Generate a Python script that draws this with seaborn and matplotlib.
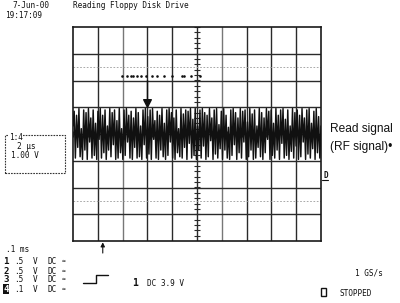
import numpy as np
import pandas as pd
import matplotlib
matplotlib.use("Agg")
import matplotlib.pyplot as plt
from matplotlib.lines import Line2D
from matplotlib.patches import Rectangle
import seaborn as sns

# ---------------- data ----------------
signal_div = [
 0.3, 0.85, -0.9, 0.7, -0.5, 0.95, -0.85, 0.2, -0.95, 0.9,
 -0.6, 0.8, -0.95, 0.95, -0.3, 0.6, -0.9, 0.9, -0.8, 0.4,
 -0.95, 0.85, -0.2, 0.95, -0.9, 0.7, -0.7, 0.9, -0.95, 0.3,
 -0.6, 0.95, -0.85, 0.8, -0.4, 0.9, -0.95, 0.5, -0.9, 0.95,
 -0.7, 0.2, -0.95, 0.9, -0.8, 0.95, -0.3, 0.7, -0.9, 0.85,
 -0.95, 0.6, -0.5, 0.95, -0.9, 0.8, -0.85, 0.3, -0.95, 0.9,
 -0.4, 0.95, -0.9, 0.65, -0.75, 0.9, -0.95, 0.95, -0.2, 0.5,
 -0.9, 0.85, -0.95, 0.7, -0.6, 0.95, -0.85, 0.4, -0.95, 0.9,
 -0.8, 0.95, -0.3, 0.8, -0.9, 0.6, -0.95, 0.9, -0.7, 0.2,
 -0.85, 0.95, -0.9, 0.75, -0.5, 0.9, -0.95, 0.85, -0.35, 0.95,
 -0.9, 0.55, -0.8, 0.95, -0.95, 0.3, -0.6, 0.9, -0.9, 0.95,
 -0.45, 0.8, -0.95, 0.7, -0.85, 0.95, -0.25, 0.6, -0.95, 0.9,
 -0.75, 0.95, -0.9, 0.35, -0.55, 0.85, -0.95, 0.95, -0.6, 0.7,
 -0.9, 0.25, -0.95, 0.9, -0.8, 0.95, -0.4, 0.8, -0.95, 0.6,
 -0.7, 0.95, -0.9, 0.85, -0.3, 0.9, -0.95, 0.45, -0.85, 0.95,
 -0.6, 0.75, -0.95, 0.9, -0.9, 0.3, -0.5, 0.95, -0.85, 0.8,
 -0.95, 0.6, -0.7, 0.95, -0.2, 0.85, -0.95, 0.9, -0.8, 0.4,
 -0.9, 0.95, -0.6, 0.7, -0.95, 0.9, -0.35, 0.95, -0.9, 0.55,
 -0.8, 0.9, -0.95, 0.3, -0.65, 0.95, -0.9, 0.8, -0.45, 0.9,
 -0.95, 0.7, -0.85, 0.95, -0.3, 0.6, -0.95, 0.9, -0.75, 0.95,
 -0.9, 0.4, -0.55, 0.85, -0.95, 0.95, -0.7, 0.65, -0.9, 0.3,
]
dots_x = [1.96, 2.16, 2.34, 2.43, 2.57, 2.73, 2.94, 3.17, 3.40, 3.68, 3.98, 4.38, 4.48, 4.75, 5.14]
dots_y = [2.17] * len(dots_x)
marker_x = 3.0
marker_top, marker_bottom = 2.17, 1.12
trig_x = 1.2

header_date = "7-Jun-00"
header_time = "19:17:09"
title = "Reading Floppy Disk Drive"
box_lines = ["1:4", "2 \u03bcs", "1.00 V"]
timebase = ".1 ms"
ch_nums = ["1", "2", "3", "4"]
ch_scale = [".5", ".5", ".5", ".1"]
trigger_text = "DC 3.9 V"
sample_rate = "1 GS/s"
status = "STOPPED"
note_lines = ["Read signal", "(RF signal)\u2022"]

# ---------------- figure ----------------
sns.set_theme(style="white")
W, H = 400, 303
fig = plt.figure(figsize=(W / 100, H / 100), dpi=100)
fig.patch.set_facecolor("white")

def fx(x):
    return x / W

def fy(y):
    return 1 - y / H

gx0, gx1, gy0, gy1 = 73, 321, 27, 241
ax = fig.add_axes([fx(gx0), fy(gy1), (gx1 - gx0) / W, (gy1 - gy0) / H])
ax.set_xlim(0, 10)
ax.set_ylim(-4, 4)
ax.set_xticks([])
ax.set_yticks([])
for s in ax.spines.values():
    s.set_color("#1a1a1a")
    s.set_linewidth(1.2)

grid_c = "#2a2a2a"
for i in range(1, 10):
    ax.axvline(i, color=grid_c if i not in (2, 6) else "#777777", lw=1.0, zorder=1)
for j in range(-3, 4):
    ax.axhline(j, color=grid_c, lw=1.0, zorder=1)
for j in (-2.5, 2.5):
    ax.axhline(j, color="#9a9a9a", lw=0.6, ls=(0, (2, 2)), zorder=1)
# graticule minor ticks on centre lines
ty = np.arange(-4, 4.01, 0.2)
ax.hlines(ty, 5 - 0.14, 5 + 0.14, color=grid_c, lw=0.8, zorder=2)
tx = np.arange(0, 10.01, 0.2)
ax.vlines(tx, -0.1, 0.1, color=grid_c, lw=0.8, zorder=2)

df = pd.DataFrame({"t": np.linspace(0, 10, len(signal_div)), "v": signal_div})
sns.lineplot(data=df, x="t", y="v", ax=ax, color="#111111", lw=1.05, zorder=3, legend=False)

sns.scatterplot(x=dots_x, y=dots_y, ax=ax, color="#111111", s=3.5, marker="o",
                linewidth=0, zorder=4, legend=False)
ax.plot([marker_x, marker_x], [marker_top - 0.15, marker_bottom + 0.1], color="#111111", lw=1.0, zorder=4)
ax.scatter([marker_x], [marker_bottom + 0.05], marker="v", s=30, color="#111111", zorder=5)
ax.annotate("", xy=(trig_x, -4.05), xytext=(trig_x, -4.45), annotation_clip=False,
            arrowprops=dict(arrowstyle="-|>", color="#111111", lw=0.8, mutation_scale=6,
                            shrinkA=0, shrinkB=0))
ax.set_xlabel("")
ax.set_ylabel("")

mono = "DejaVu Sans Mono"
fs = 5.6
def t(x, y, s, **kw):
    kw.setdefault("family", mono)
    kw.setdefault("fontsize", fs)
    kw.setdefault("color", "#111111")
    fig.text(fx(x), fy(y), s, va="center", ha="left", **kw)

t(12, 6, header_date)
t(5, 15, header_time)
t(73, 6, title)

# left channel box
fig.add_artist(Rectangle((fx(5), fy(173)), fx(65) - fx(5), fy(135) - fy(173),
                         transform=fig.transFigure, fill=False, ec="#333333",
                         lw=0.8, ls=(0, (1.5, 1))))
t(9, 137, box_lines[0], bbox=dict(boxstyle="square,pad=0.05", fc="white", ec="none"))
t(17, 146, box_lines[1])
t(11, 155, box_lines[2])

t(6, 250, timebase)
rows_y = [262, 271, 280, 289]
for n, sc, y in zip(ch_nums, ch_scale, rows_y):
    if n == "4":
        t(3, y, n, fontsize=6.6, weight="bold", color="white",
          bbox=dict(boxstyle="square,pad=0.02", fc="#111111", ec="none"))
    else:
        t(3, y, n, fontsize=6.6, weight="bold")
    t(14, y, sc)
    t(33, y, "V")
    t(48, y, "DC")
    t(62, y, "\u2248", fontsize=4.5)

fig.add_artist(Line2D([fx(83), fx(96), fx(96), fx(108)], [fy(283), fy(283), fy(275), fy(275)],
                      transform=fig.transFigure, color="#111111", lw=1.0))
t(132, 283, "1", fontsize=7, weight="bold")
t(147, 283, trigger_text)
t(355, 273, sample_rate)
fig.add_artist(Rectangle((fx(321), fy(296)), fx(5), fy(288) - fy(296), transform=fig.transFigure,
                         fill=False, ec="#111111", lw=1.0))
t(340, 293, status)

# right marker
t(323, 175, "D", fontsize=5.5, weight="bold")
fig.add_artist(Line2D([fx(322), fx(328)], [fy(180), fy(180)], transform=fig.transFigure,
                      color="#111111", lw=0.8))

for line, y in zip(note_lines, [129, 147]):
    fig.text(fx(330), fy(y), line, family="Liberation Sans", fontsize=8.6,
             ha="left", va="center", color="#111111")

fig.savefig("out.png", dpi=100)
